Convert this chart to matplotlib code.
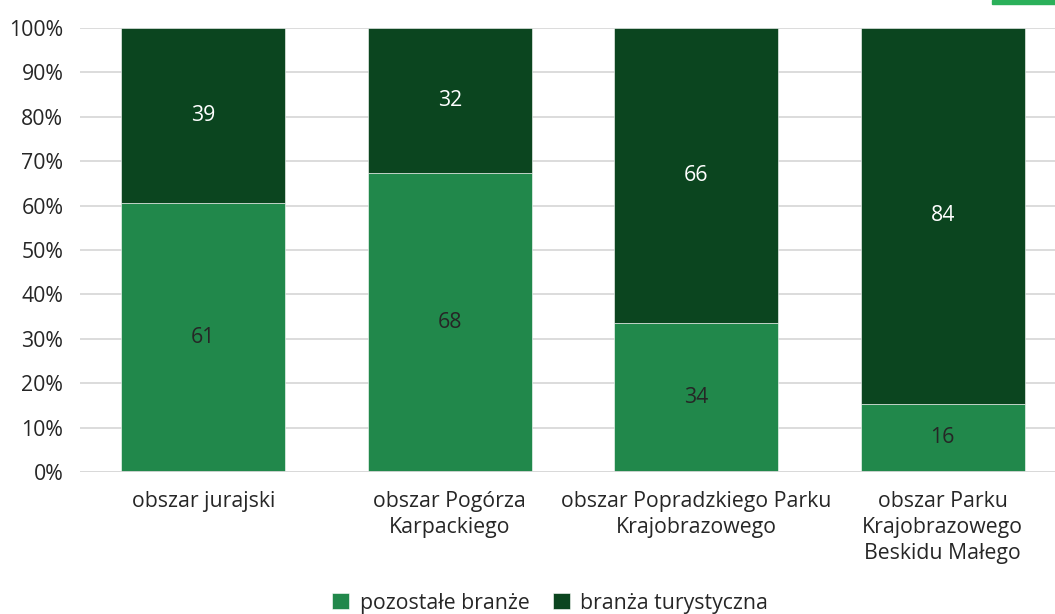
import matplotlib.pyplot as plt
import numpy as np

plt.rcParams["font.family"] = ["Open Sans", "DejaVu Sans"]

categories = [
    "obszar jurajski",
    "obszar Pogórza\nKarpackiego",
    "obszar Popradzkiego Parku\nKrajobrazowego",
    "obszar Parku\nKrajobrazowego\nBeskidu Małego",
]
# shares (%), labels as printed in the chart
share_other = [60.5, 67.4, 33.5, 15.4]
share_tourism = [39.5, 32.6, 66.5, 84.6]
label_other = ["61", "68", "34", "16"]
label_tourism = ["39", "32", "66", "84"]

series_names = ["pozostałe branże", "branża turystyczna"]
color_other = "#21884B"
color_tourism = "#0B451F"
fs = 15.3

fig = plt.figure(figsize=(10.55, 6.14), dpi=100)
ax = fig.add_axes([80 / 1055, 1 - 472 / 614, 986 / 1055, 444 / 614])

x = np.arange(len(categories))
width = 0.665

b1 = ax.bar(x, share_other, width, color=color_other, edgecolor="white",
            linewidth=0.4, label=series_names[0], zorder=2)
b2 = ax.bar(x, share_tourism, width, bottom=share_other, color=color_tourism,
            edgecolor="white", linewidth=0.4, label=series_names[1], zorder=2)

for i in range(len(categories)):
    ax.text(x[i], share_other[i] / 2, label_other[i], ha="center", va="center",
            fontsize=fs, color="#262626", zorder=3)
    ax.text(x[i], share_other[i] + share_tourism[i] / 2, label_tourism[i],
            ha="center", va="center", fontsize=fs, color="white", zorder=3)

ax.set_xlim(-0.5, len(categories) - 0.5)
ax.set_ylim(0, 100)
ax.set_yticks(np.arange(0, 101, 10))
ax.set_yticklabels([f"{v}%" for v in range(0, 101, 10)])
ax.yaxis.grid(True, color="#D9D9D9", linewidth=1.3, zorder=0)
ax.set_axisbelow(True)
ax.axhline(0, color="#D9D9D9", linewidth=1.3, zorder=2.5)

ax.set_xticks(x)
ax.set_xticklabels(categories, fontsize=fs, color="#262626", linespacing=1.3)
ax.tick_params(axis="both", length=0, labelsize=fs, labelcolor="#262626")
ax.tick_params(axis="y", pad=12)
ax.tick_params(axis="x", pad=14)
for s in ax.spines.values():
    s.set_visible(False)

fig.legend(handles=[b1, b2], labels=series_names, loc="center",
           bbox_to_anchor=(550 / 1055, 1 - 603 / 614), ncol=2, frameon=False,
           fontsize=fs, handlelength=0.8, handleheight=0.8, columnspacing=1.1,
           handletextpad=0.5, labelcolor="#262626")

# small green mark at the top-right corner
fig.add_artist(plt.Rectangle((992 / 1055, 1 - 4 / 614), 63 / 1055, 4 / 614,
                             transform=fig.transFigure, color="#2BB05A"))

fig.savefig("out.png", dpi=100)
